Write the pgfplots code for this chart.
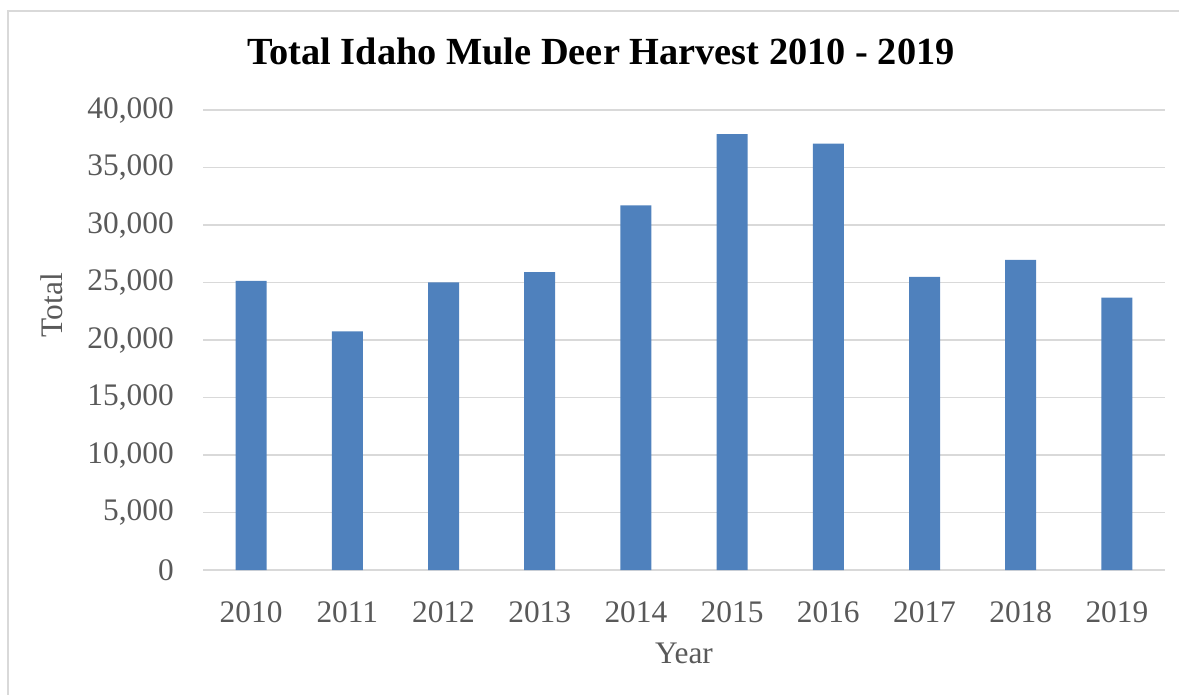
\documentclass[border=0pt]{standalone}
\usepackage{pgfplots}
\pgfplotsset{compat=1.18}
\usepackage{fontspec}
\setmainfont{Liberation Serif}
\definecolor{barblue}{HTML}{4F81BD}
\definecolor{gridgray}{HTML}{D9D9D9}
\definecolor{labgray}{HTML}{595959}
\begin{document}
\begin{tikzpicture}
\useasboundingbox (0,0) rectangle (1179bp,695bp);
\draw[gridgray, line width=2bp] (8.3bp,0bp) -- (8.3bp,684.3bp) -- (1179bp,684.3bp);
\node[anchor=base, font=\fontsize{38.5}{44}\selectfont\bfseries] at (601bp,630bp) {Total Idaho Mule Deer Harvest 2010 - 2019};
\begin{axis}[
  at={(203bp,125bp)}, anchor=south west,
  scale only axis, width=962bp, height=460bp,
  ybar, bar width=31bp,
  xmin=-0.5, xmax=9.5, ymin=0, ymax=40000,
  xtick=data,
  xticklabels={2010,2011,2012,2013,2014,2015,2016,2017,2018,2019},
  ytick={0,5000,10000,15000,20000,25000,30000,35000,40000},
  scaled y ticks=false,
  /pgf/number format/.cd, fixed, 1000 sep={,}, assume math mode=true, /pgfplots/.cd,
  ymajorgrids, grid style={gridgray, line width=1.5bp},
  axis line style={draw=none}, tick style={draw=none},
  ticklabel style={font=\fontsize{31.5}{36}\selectfont, text=labgray, inner sep=0pt},
  yticklabel style={anchor=east, xshift=-29bp},
  xticklabel style={anchor=north, yshift=-27bp},
  xlabel={Year}, ylabel={Total},
  label style={font=\fontsize{31.5}{36}\selectfont, text=labgray, inner sep=0pt},
  xlabel style={at={(axis description cs:0.5,0)}, anchor=base, yshift=-93bp},
  ylabel style={at={(axis description cs:-0.157,0.576)}, anchor=center, rotate=0},
]
\addplot[fill=barblue, draw=none] coordinates {
(0,25150) (1,20750) (2,25000) (3,25900) (4,31700) (5,37900) (6,37070) (7,25480) (8,26960) (9,23680)};
\end{axis}
\end{tikzpicture}
\end{document}
